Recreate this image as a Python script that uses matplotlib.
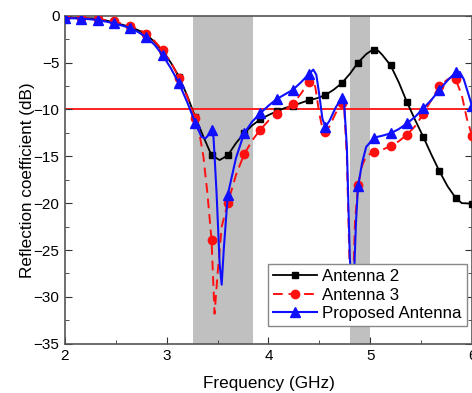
import matplotlib
matplotlib.use("Agg")
import matplotlib.pyplot as plt
from matplotlib.lines import Line2D

plt.rcParams['font.family'] = ['Liberation Sans', 'DejaVu Sans']

# Antenna 2 (black, squares)
freq_a2 = [2.00, 2.16, 2.32, 2.48, 2.64, 2.72, 2.80, 2.88, 2.96, 3.04, 3.12, 3.20, 3.28,
           3.36, 3.44, 3.52, 3.60, 3.68, 3.76, 3.84, 3.92, 4.00, 4.08, 4.16, 4.24, 4.32,
           4.40, 4.48, 4.56, 4.64, 4.72, 4.80, 4.88, 4.96, 5.02, 5.04, 5.08, 5.12, 5.20,
           5.28, 5.36, 5.44, 5.52, 5.60, 5.68, 5.76, 5.84, 5.90, 6.00]
s11_a2 = [-0.2, -0.25, -0.3, -0.7, -1.2, -1.55, -2.0, -2.8, -3.8, -5.0, -6.5, -8.5, -10.8,
          -12.9, -14.9, -15.4, -14.9, -13.6, -12.55, -11.7, -11.05, -10.6, -10.2, -9.85, -9.6, -9.3,
          -9.0, -8.8, -8.45, -7.9, -7.2, -6.2, -5.0, -4.1, -3.65, -3.62, -3.75, -4.2, -5.3,
          -7.1, -9.2, -11.1, -12.9, -14.8, -16.6, -18.2, -19.45, -20.0, -20.05]

# Antenna 3 (red dashed, circles)
freq_a3 = [2.00, 2.16, 2.32, 2.48, 2.64, 2.72, 2.80, 2.88, 2.96, 3.04, 3.12, 3.20, 3.28,
           3.32, 3.36, 3.40, 3.44, 3.47, 3.50, 3.54, 3.60, 3.68, 3.76, 3.84, 3.92, 4.00,
           4.08, 4.16, 4.24, 4.32, 4.40, 4.43, 4.46, 4.50, 4.53, 4.56, 4.60, 4.66, 4.72,
           4.74, 4.77, 4.80, 4.82, 4.85, 4.88, 4.92, 4.96, 5.04, 5.12, 5.20, 5.28, 5.36,
           5.44, 5.52, 5.60, 5.68, 5.76, 5.80, 5.84, 5.90, 5.95, 6.00]
s11_a3 = [-0.2, -0.25, -0.35, -0.6, -1.1, -1.45, -1.9, -2.7, -3.7, -4.95, -6.6, -8.6, -10.95,
          -12.5, -15.0, -19.0, -23.9, -31.8, -27.5, -22.5, -20.0, -17.0, -14.8, -13.3, -12.15, -11.2,
          -10.5, -10.0, -9.45, -8.3, -7.05, -6.7, -7.6, -10.5, -12.0, -12.4, -11.8, -10.4, -9.3,
          -9.1, -15.0, -28.0, -33.0, -22.0, -18.1, -16.0, -15.0, -14.5, -14.3, -13.9, -13.4, -12.7,
          -11.8, -10.5, -9.0, -7.5, -6.8, -6.55, -6.8, -8.5, -11.0, -12.8]

# Proposed Antenna (blue, triangles)
freq_pr = [2.00, 2.16, 2.32, 2.48, 2.64, 2.72, 2.80, 2.88, 2.96, 3.04, 3.12, 3.20, 3.28,
           3.34, 3.38, 3.42, 3.44, 3.46, 3.49, 3.52, 3.54, 3.56, 3.60, 3.68, 3.76, 3.84,
           3.92, 4.00, 4.08, 4.16, 4.24, 4.32, 4.40, 4.44, 4.47, 4.50, 4.53, 4.56, 4.60,
           4.66, 4.72, 4.74, 4.77, 4.80, 4.83, 4.86, 4.88, 4.92, 4.96, 5.04, 5.12, 5.20,
           5.28, 5.36, 5.44, 5.52, 5.60, 5.68, 5.76, 5.84, 5.88, 5.92, 5.96, 6.00]
s11_pr = [-0.25, -0.3, -0.45, -0.8, -1.3, -1.75, -2.3, -3.1, -4.2, -5.6, -7.2, -9.2, -11.4,
          -12.9, -13.1, -12.6, -12.2, -13.0, -19.0, -26.5, -28.7, -25.0, -19.1, -15.2, -12.55, -11.3,
          -10.4, -9.6, -8.9, -8.4, -7.9, -7.1, -6.2, -5.75, -6.3, -8.5, -11.0, -11.85, -11.2,
          -9.8, -8.75, -8.7, -14.0, -26.0, -31.0, -22.0, -18.2, -15.7, -14.0, -13.0, -12.8, -12.55,
          -12.1, -11.5, -10.8, -9.9, -9.0, -7.9, -6.9, -6.05, -6.0, -6.8, -8.2, -9.65]

bands = [(3.26, 3.85), (4.80, 5.00)]


def marks(xs):
    # markers every 0.16 GHz
    return [i for i, x in enumerate(xs) if abs((x - 2) / 0.16 - round((x - 2) / 0.16)) < 1e-6]


fig = plt.figure(figsize=(4.72, 3.93), dpi=100)
ax = fig.add_axes([0.1377, 0.1254, 0.8623, 0.8346])

for b0, b1 in bands:
    ax.axvspan(b0, b1, color='#c0c0c0', lw=0, zorder=0)
ax.axhline(-10, color='#ff2020', lw=1.4, zorder=1)

ax.plot(freq_a2, s11_a2, color='black', lw=1.3, marker='s', ms=5,
        markevery=marks(freq_a2), zorder=3)
ax.plot(freq_a3, s11_a3, color='#ff1010', lw=1.4, ls=(0, (5, 3)), marker='o', ms=6,
        markevery=marks(freq_a3), zorder=4)
ax.plot(freq_pr, s11_pr, color='#1010ff', lw=1.5, marker='^', ms=6.5,
        markevery=marks(freq_pr), zorder=5)

ax.set_xlim(2, 6)
ax.set_ylim(-35, 0)
ax.set_xticks([2, 3, 4, 5, 6])
ax.set_xticks([2.5, 3.5, 4.5, 5.5], minor=True)
ax.set_yticks(range(-35, 1, 5))
ax.set_yticks([-32.5, -27.5, -22.5, -17.5, -12.5, -7.5, -2.5], minor=True)
ax.tick_params(which='both', direction='in', right=True, top=False, labelsize=11,
               color='#333333')
ax.tick_params(which='major', length=5, pad=4)
ax.tick_params(which='minor', length=3)
for sp in ax.spines.values():
    sp.set_color('#555555')
    sp.set_linewidth(1.2)

ax.set_xlabel('Frequency (GHz)', fontsize=12.3, labelpad=9)
ax.set_ylabel('Reflection coefficient (dB)', fontsize=12.3, labelpad=-1)

handles = [
    Line2D([], [], color='black', lw=1.3, marker='s', ms=5),
    Line2D([], [], color='#ff1010', lw=1.4, ls=(0, (5, 3)), marker='o', ms=6),
    Line2D([], [], color='#1010ff', lw=1.5, marker='^', ms=6.5),
]
leg = ax.legend(handles, ['Antenna 2', 'Antenna 3', 'Proposed Antenna'],
                loc='lower right', bbox_to_anchor=(0.987, 0.054), borderaxespad=0,
                fontsize=12.2, handlelength=2.6, fancybox=False, framealpha=1,
                edgecolor='#888888', labelspacing=0.2, borderpad=0.3, handletextpad=0.3)
leg.set_zorder(10)

fig.savefig('out.png', dpi=100)
